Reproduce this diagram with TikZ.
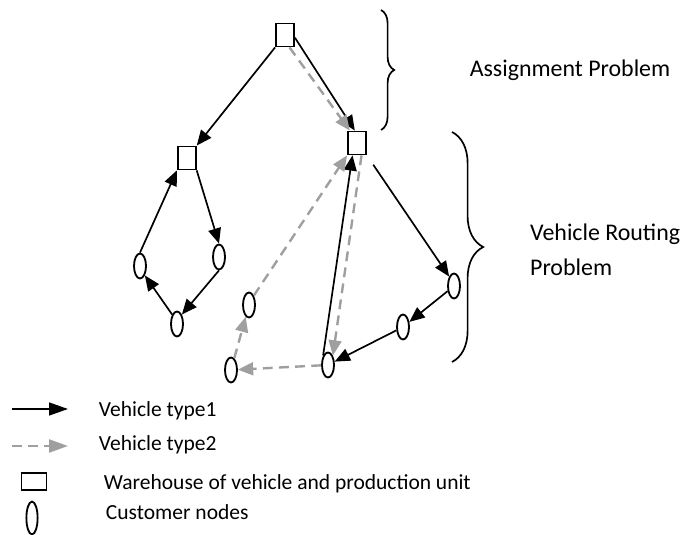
\documentclass[tikz,border=0pt]{standalone}
\usepackage{fontspec}
\setmainfont{Carlito}
\usetikzlibrary{arrows.meta,shapes,calc,positioning,decorations.pathreplacing}

\begin{document}
\begin{tikzpicture}[scale = 1]
		\tikzstyle{every node}=[font=\fontsize{15.3}{18}\selectfont]
		\tikzstyle{depot}=[draw, line width=1.3pt, rectangle, minimum width=0.45cm, minimum height=0.575cm, inner sep=0pt]
		\tikzstyle{customer}=[draw, line width=1.3pt, ellipse, minimum width=0.3cm, minimum height=0.625cm, inner sep=0pt]
		\tikzstyle{typeone}=[line width=1.2pt, -{Triangle[length=0.38cm, width=0.32cm]}]
		\tikzstyle{typetwo}=[line width=1.7pt, gray!75, dash pattern=on 7pt off 4.5pt, -{Triangle[length=0.38cm, width=0.32cm]}]
		\tikzstyle{bracket}=[line width=1.2pt, decorate]
		\tikzstyle{bigfont}=[font=\fontsize{17}{25}\selectfont]
		\useasboundingbox (0,0) rectangle (17.15,13.375);
		% warehouses
		\node [depot] (top) at (7.125,12.5) {};
		\node [depot] (lw) at (4.67,9.425) {};
		\node [depot] (rw) at (8.925,9.8) {};
		% customers
		\node [customer] (l1) at (3.5,6.725) {};
		\node [customer] (l2) at (5.475,6.95) {};
		\node [customer] (l3) at (4.425,5.275) {};
		\node [customer] (g1) at (6.225,5.75) {};
		\node [customer] (g2) at (5.775,4.125) {};
		\node [customer] (b1) at (8.2,4.25) {};
		\node [customer] (r2) at (10.075,5.2) {};
		\node [customer] (r1) at (11.35,6.225) {};
		% assignment
		\draw [typeone] (top.south west) -- (lw.north east);
		\draw [typeone] (top.-15) -- (rw.100);
		\draw [typetwo] (top.-70) -- (rw.120);
		% routes
		\draw [typeone] (lw.south east) -- (l2.north);
		\draw [typeone] (l2.south) -- (l3.north east);
		\draw [typeone] (l3.north west) -- (l1.south east);
		\draw [typeone] (l1.north) -- (lw.south west);
		\draw [typeone, shorten <=8pt] (rw.south east) -- (r1.north west);
		\draw [typeone] (r1) -- (r2);
		\draw [typeone] (r2) -- (b1);
		\draw [typeone] (b1.north west) -- (rw.250);
		\draw [typetwo] (rw.290) -- (b1.north east);
		\draw [typetwo] (b1) -- (g2);
		\draw [typetwo] (g2) -- (g1);
		\draw [typetwo] (g1.north east) -- (rw.south west);
		% braces
		\draw [bracket, decoration={brace, amplitude=0.33cm}] (9.525,13.125) -- (9.525,10.125);
		\draw [bracket, decoration={brace, amplitude=0.78cm}] (11.3,10.075) -- (11.3,4.325);
		\node [bigfont] (assign) at (14.25,11.625) {Assignment Problem};
		\node [bigfont, anchor=west, align=left] (vrp) at (13.13,7.125) {Vehicle Routing\\Problem};
		% legend
		\coordinate (k1a) at (0.3,3.15);
		\coordinate (k1b) at (1.7,3.15);
		\coordinate (k2a) at (0.3,2.225);
		\coordinate (k2b) at (1.7,2.225);
		\draw [typeone, -{Triangle[length=0.47cm, width=0.32cm]}] (k1a) -- (k1b);
		\draw [typetwo, -{Triangle[length=0.47cm, width=0.32cm]}] (k2a) -- (k2b);
		\node [depot, minimum width=0.625cm, minimum height=0.425cm] (kdepot) at (0.85,1.34) {};
		\node [customer, minimum width=0.28cm, minimum height=0.82cm] (kcust) at (0.8,0.425) {};
		\node [anchor=base west] (t1) at (2.35,2.95) {Vehicle type1};
		\node [anchor=base west] (t2) at (2.35,2.1) {Vehicle type2};
		\node [anchor=base west] (t3) at (2.475,1.125) {Warehouse of vehicle and production unit};
		\node [anchor=base west] (t4) at (2.525,0.375) {Customer nodes};
	\end{tikzpicture}
\end{document}
